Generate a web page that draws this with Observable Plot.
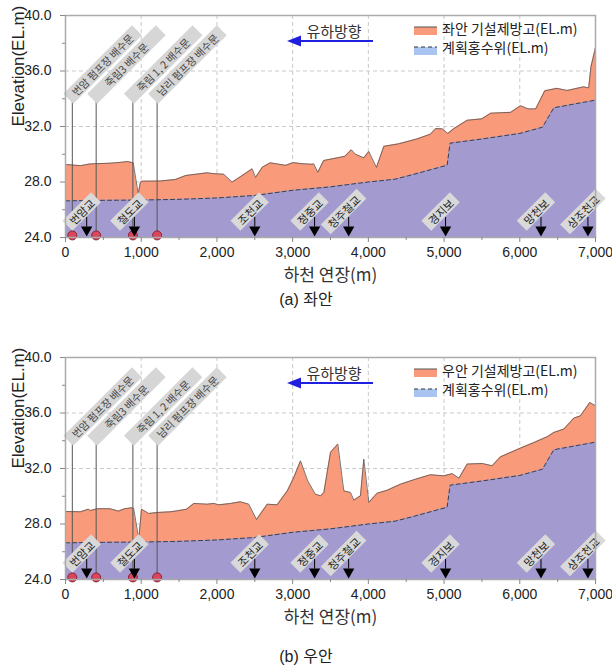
<!DOCTYPE html>
<html><head><meta charset="utf-8">
<script src="https://cdn.jsdelivr.net/npm/d3@7"></script>
<script src="https://cdn.jsdelivr.net/npm/@observablehq/plot@0.6"></script>
<style>
body{margin:0;background:#fff;}
#wrap{position:relative;width:612px;height:670px;overflow:hidden;}
.chart{position:absolute;left:0;}
.cap{position:absolute;left:0;width:612px;text-align:center;font-size:16px;line-height:20px;font-family:"Liberation Sans","Noto Sans CJK KR",sans-serif;color:#222;}
</style></head><body><div id="wrap"></div>
<script>
// ---- data ----
const leftLevee = [[0,29.26],[100,29.22],[200,29.18],[320,29.3],[600,29.36],[750,29.43],[820,29.48],[895,29.38],[960,27.15],[990,27.99],[1010,28.06],[1250,28.07],[1450,28.18],[1590,28.47],[1870,28.66],[1960,28.6],[2090,28.56],[2200,27.99],[2330,28.45],[2465,28.95],[2510,28.33],[2600,29.07],[2705,29.38],[2800,29.3],[2905,29.2],[3010,29.4],[3100,29.33],[3235,29.28],[3280,29.3],[3333,28.7],[3410,29.55],[3590,29.74],[3690,29.85],[3775,30.32],[3830,30.0],[3940,29.74],[4006,30.2],[4107,29.05],[4205,30.57],[4400,30.75],[4640,31.1],[4820,31.45],[4890,31.85],[4975,31.83],[5050,31.5],[5130,31.85],[5305,32.45],[5500,32.55],[5615,32.96],[5880,33.02],[6010,33.5],[6110,33.27],[6210,33.27],[6330,34.57],[6490,34.75],[6625,34.6],[6845,34.86],[6910,34.78],[6940,36.3],[7000,37.7]];
const rightLevee = [[0,28.9],[200,28.88],[300,29.07],[330,28.97],[420,29.1],[590,29.1],[700,28.93],[780,29.1],[880,29.17],[900,29.12],[968,26.9],[1004,29.07],[1100,28.76],[1210,28.83],[1390,28.88],[1475,28.95],[1600,29.07],[1695,29.48],[1870,29.43],[1960,29.48],[2025,29.38],[2180,29.48],[2310,29.6],[2420,29.43],[2523,28.32],[2665,29.43],[2795,29.38],[2930,30.39],[3015,31.35],[3104,32.55],[3200,31.1],[3300,30.15],[3370,30.03],[3412,30.27],[3500,33.16],[3597,33.76],[3676,30.39],[3764,30.27],[3808,29.72],[3896,30.03],[3940,32.68],[4006,29.55],[4116,30.22],[4248,30.43],[4424,30.87],[4623,31.23],[4821,31.55],[4997,31.47],[5108,31.63],[5196,31.3],[5306,32.32],[5504,32.36],[5636,32.2],[5745,32.84],[6010,33.47],[6186,33.87],[6362,34.29],[6450,34.6],[6582,34.84],[6714,35.63],[6802,35.8],[6925,36.76],[7000,36.52]];
const floodLevel = [[0,26.64],[500,26.68],[1000,26.7],[1500,26.75],[2000,26.85],[2500,27.03],[3000,27.4],[3500,27.65],[4000,28.0],[4350,28.2],[4600,28.55],[5000,29.15],[5040,29.2],[5080,30.8],[5500,31.1],[6000,31.5],[6300,31.95],[6450,33.35],[7000,33.9]];
const gateNames = ["번암 펌프장 배수문","죽림3 배수문","죽림 1, 2 배수문","남리 펌프장 배수문"];
const gateDist = [90,405,890,1210];
const bridgeNames = ["번암교","철도교","조천교","정중교","청주철교","경지보","망천보","상조천교"];
const bridgeDist = [280,910,2500,3290,3740,5020,6280,6900];
const yTicks = [24,28,32,36,40];
const yMinor = [26,30,34,38];
const xTicks = [0,1000,2000,3000,4000,5000,6000,7000];
const xMinor = [500,1500,2500,3500,4500,5500,6500];
const gridX = [1000,2000,3000,4000,5000,6000];
const gridY = [28,32,36];

const ORANGE = "#f99a7b", PURPLE = "#a39bd0";
const wrap = document.getElementById("wrap");

function makeChart(levee, legendLabel, top){
  const gates = gateDist.map((x,i)=>({x, name: gateNames[i]}));
  const bridges = bridgeDist.map((x,i)=>({x, name: bridgeNames[i]}));
  const svg = Plot.plot({
    width: 612, height: 287,
    marginLeft: 65, marginRight: 17, marginTop: 15, marginBottom: 50,
    style: {fontFamily: '"Liberation Sans","Noto Sans CJK KR",sans-serif', fontSize: "14px", color: "#222", background: "#fff"},
    x: {domain: [0,7000]},
    y: {domain: [24,40]},
    marks: [
      Plot.ruleX(gridX, {stroke: "#c9c9c9", strokeDasharray: "4,3"}),
      Plot.ruleY(gridY, {stroke: "#c9c9c9", strokeDasharray: "4,3"}),
      Plot.areaY(levee, {x: d=>d[0], y1: 24, y2: d=>d[1], fill: ORANGE}),
      Plot.lineY(levee, {x: d=>d[0], y: d=>d[1], stroke: "#555", strokeWidth: 0.8}),
      Plot.areaY(floodLevel, {x: d=>d[0], y1: 24, y2: d=>d[1], fill: PURPLE}),
      Plot.lineY(floodLevel, {x: d=>d[0], y: d=>d[1], stroke: "#333", strokeWidth: 0.9, strokeDasharray: "4,3"}),
      Plot.ruleX(gates, {x: "x", y1: 24.15, y2: 34.4, stroke: "#555", strokeWidth: 1}),
      Plot.dot(gates, {x: "x", y: 24.15, r: 4.5, fill: "#d8475c", stroke: "#8a2030", strokeWidth: 1}),
      Plot.ruleX(bridges, {x: "x", y1: 24.75, y2: 25.45, stroke: "#000", strokeWidth: 1}),
      Plot.dot(bridges, {x: "x", y: 24.55, symbol: "triangle", rotate: 180, r: 4.2, fill: "#000", stroke: "none"}),
      Plot.text(gates, {x: "x", y: 36.4, text: "name", dx: 31, rotate: -45, textAnchor: "middle", lineAnchor: "middle", fontSize: 10.5, fill: "#444", fontFamily: '"Noto Sans CJK KR",sans-serif'}),
      Plot.text(bridges, {x: "x", y: 25.8, text: "name", dx: -4, rotate: -45, textAnchor: "middle", lineAnchor: "middle", fontSize: 11, fill: "#222", fontFamily: '"Noto Sans CJK KR",sans-serif'}),
      Plot.frame({stroke: "#aaa", strokeWidth: 1.5}),
      Plot.axisY(yTicks, {tickSize: 5, tickPadding: 9, tickFormat: d=>d.toFixed(1), fontSize: 14, label: null, stroke: "#888", fill: "#222"}),
      Plot.axisY(yMinor, {tickSize: 3, tickFormat: ()=>"", label: null, stroke: "#888"}),
      Plot.axisX(xTicks, {tickSize: 5, tickPadding: 5, tickFormat: d3.format(","), fontSize: 14, label: null, stroke: "#888", fill: "#222"}),
      Plot.axisX(xMinor, {tickSize: 3, tickFormat: ()=>"", label: null, stroke: "#888"}),
      Plot.text(["Elevation(EL.m)"], {frameAnchor: "left", dx: -47, rotate: -90, fontSize: 17, fill: "#222"}),
      Plot.text(["하천 연장(m)"], {frameAnchor: "bottom", dy: 38, lineAnchor: "middle", fontSize: 17, fill: "#333", fontFamily: '"Noto Sans CJK KR",sans-serif'})
    ]
  });
  svg.classList.add("chart");
  svg.style.top = top + "px";
  wrap.appendChild(svg);

  // background boxes behind rotated labels
  function boxes(names, fixedW, pad, fill){
    d3.select(svg).selectAll("text").filter(function(){ return names.includes(this.textContent); }).each(function(){
      const b = this.getBBox();
      const cx = b.x + b.width/2, cy = b.y + b.height/2;
      const w = fixedW || (b.width + pad*2);
      const h = 14;
      const r = document.createElementNS("http://www.w3.org/2000/svg","rect");
      r.setAttribute("x", cx - w/2); r.setAttribute("y", cy - h/2);
      r.setAttribute("width", w); r.setAttribute("height", h);
      r.setAttribute("fill", fill);
      const tr = this.getAttribute("transform"); if (tr) r.setAttribute("transform", tr);
      this.parentNode.insertBefore(r, this);
    });
  }
  boxes(gateNames, 97, 0, "#d6d6d6");
  boxes(bridgeNames, 0, 5, "#d9d9d9");

  // flow arrow and legend
  const s = d3.select(svg).append("g").attr("font-family", '"Noto Sans CJK KR","Liberation Sans",sans-serif').attr("text-anchor","start");
  s.append("line").attr("x1",299).attr("x2",373).attr("y1",41).attr("y2",41).attr("stroke","#1f1fe0").attr("stroke-width",2);
  s.append("path").attr("d","M287,41L301,35.5L301,46.5Z").attr("fill","#1f1fe0");
  s.append("text").attr("x",334).attr("y",37).attr("text-anchor","middle").attr("font-size",15).attr("fill","#333").text("유하방향");
  s.append("rect").attr("x",414).attr("y",27).attr("width",23).attr("height",8).attr("fill",ORANGE);
  s.append("line").attr("x1",414).attr("x2",437).attr("y1",27).attr("y2",27).attr("stroke","#555").attr("stroke-width",1);
  s.append("text").attr("x",442).attr("y",34).attr("font-size",14).attr("fill","#222").text(legendLabel);
  s.append("rect").attr("x",414).attr("y",47).attr("width",23).attr("height",8).attr("fill","#a9c4f0");
  s.append("line").attr("x1",414).attr("x2",437).attr("y1",47).attr("y2",47).attr("stroke","#333").attr("stroke-dasharray","4,3").attr("stroke-width",1);
  s.append("text").attr("x",442).attr("y",53).attr("font-size",14).attr("fill","#222").text("계획홍수위(EL.m)");
}

function caption(text, top){
  const d = document.createElement("div");
  d.className = "cap"; d.style.top = top + "px"; d.textContent = text;
  wrap.appendChild(d);
}

makeChart(leftLevee, "좌안 기설제방고(EL.m)", 0);
caption("(a) 좌안", 290);
makeChart(rightLevee, "우안 기설제방고(EL.m)", 342);
caption("(b) 우안", 647);
</script></body></html>
